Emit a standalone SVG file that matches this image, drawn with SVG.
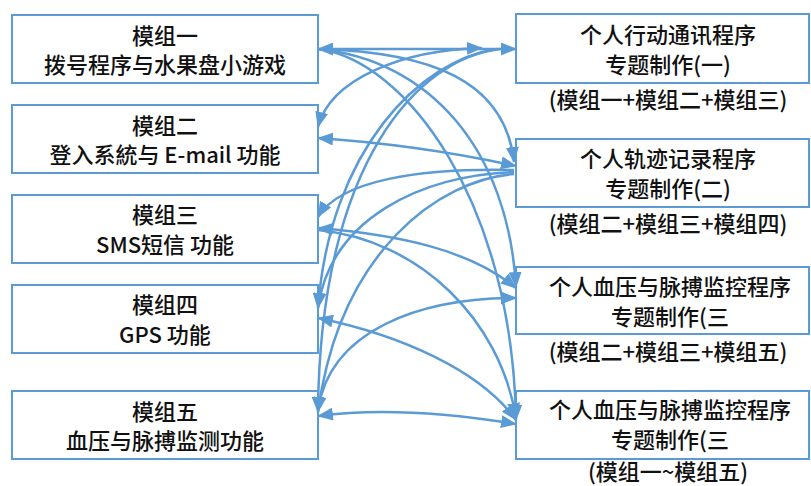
<svg xmlns="http://www.w3.org/2000/svg" width="811" height="486" viewBox="0 0 811 486">
<style>
.box{fill:#fff;stroke:#5B9BD5;stroke-width:2}
.t{font-family:"Noto Sans CJK SC","Liberation Sans",sans-serif;font-size:22px;font-weight:500;fill:#111;text-anchor:middle}
.c{fill:none;stroke:#5B9BD5;stroke-width:2.5}
</style>
<defs>
<marker id="ah" viewBox="0 0 16 13" refX="15" refY="6.5" markerWidth="16" markerHeight="13" markerUnits="userSpaceOnUse" orient="auto-start-reverse">
<path d="M0,0 L16,6.5 L0,13 z" fill="#5B9BD5"/>
</marker>
</defs>
<rect width="811" height="486" fill="#fff"/>
<g id="m1"><rect class="box" x="12" y="15" width="306" height="68"/><text class="t" x="165" y="44">模组一</text><text class="t" x="165" y="73">拨号程序与水果盘小游戏</text></g>
<g id="m2"><rect class="box" x="12" y="105" width="306" height="68"/><text class="t" x="165" y="134">模组二</text><text class="t" x="165" y="163">登入系統与 E-mail 功能</text></g>
<g id="m3"><rect class="box" x="12" y="195" width="306" height="68"/><text class="t" x="165" y="223">模组三</text><text class="t" x="165" y="253">SMS短信 功能</text></g>
<g id="m4"><rect class="box" x="12" y="285" width="306" height="68"/><text class="t" x="165" y="313">模组四</text><text class="t" x="165" y="343">GPS 功能</text></g>
<g id="m5"><rect class="box" x="12" y="391" width="306" height="68"/><text class="t" x="165" y="420">模组五</text><text class="t" x="165" y="449">血压与脉搏监测功能</text></g>
<g id="p1"><rect class="box" x="516" y="14" width="293" height="69"/><text class="t" x="668" y="43">个人行动通讯程序</text><text class="t" x="668" y="73">专题制作(一)</text><text class="t" x="668" y="108">(模组一+模组二+模组三)</text></g>
<g id="p2"><rect class="box" x="516" y="139" width="293" height="68"/><text class="t" x="668" y="167">个人轨迹记录程序</text><text class="t" x="668" y="197">专题制作(二)</text><text class="t" x="668" y="232">(模组二+模组三+模组四)</text></g>
<g id="p3"><rect class="box" x="516" y="267" width="293" height="67"/><text class="t" x="670" y="295">个人血压与脉搏监控程序</text><text class="t" x="670" y="325">专题制作(三</text><text class="t" x="668" y="360">(模组二+模组三+模组五)</text></g>
<g id="p4"><rect class="box" x="516" y="391" width="293" height="68"/><text class="t" x="670" y="418">个人血压与脉搏监控程序</text><text class="t" x="670" y="448">专题制作(三</text><text class="t" x="668" y="480">(模组一~模组五)</text></g>
<g id="connectors">
<path class="c" d="M318,49 L516,49" marker-start="url(#ah)" marker-end="url(#ah)"/>
<path class="c" d="M318,49 C430,52 505,80 514,162" marker-end="url(#ah)"/>
<path class="c" d="M318,49 C430,60 508,150 516,287" marker-end="url(#ah)"/>
<path class="c" d="M318,49 C405,60 512,200 516,420" marker-end="url(#ah)"/>
<path class="c" d="M318,127 C330,80 400,50 482,48" marker-start="url(#ah)" marker-end="url(#ah)"/>
<path class="c" d="M497,49 C420,60 330,150 318,308" marker-end="url(#ah)"/>
<path class="c" d="M500,49 C420,58 320,160 318,412" marker-end="url(#ah)"/>
<path class="c" d="M318,138 Q420,145 516,166" marker-start="url(#ah)" marker-end="url(#ah)"/>
<path class="c" d="M514,170 C420,168 340,180 318,217" marker-end="url(#ah)"/>
<path class="c" d="M514,172 C420,175 330,220 318,308" marker-end="url(#ah)"/>
<path class="c" d="M514,174 C440,180 340,250 318,412" marker-end="url(#ah)"/>
<path class="c" d="M318,228 C400,235 470,250 516,288" marker-start="url(#ah)" marker-end="url(#ah)"/>
<path class="c" d="M318,410 C330,330 420,298 516,298" marker-end="url(#ah)"/>
<path class="c" d="M318,318 C400,335 480,370 516,420" marker-start="url(#ah)" marker-end="url(#ah)"/>
<path class="c" d="M318,230 C420,240 500,320 516,418" marker-end="url(#ah)"/>
<path class="c" d="M318,416 Q400,405 516,424" marker-start="url(#ah)" marker-end="url(#ah)"/>
</g>
</svg>
